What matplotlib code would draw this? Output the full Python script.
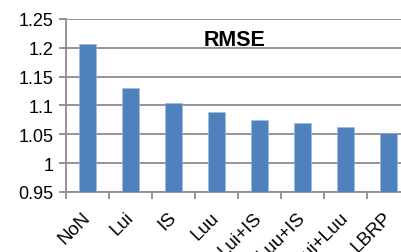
import matplotlib
matplotlib.use("Agg")
import matplotlib.pyplot as plt
import matplotlib.transforms as mtransforms
import numpy as np

categories = ["NoN", "Lui", "IS", "Luu", "Lui+IS", "Luu+IS", "Lui+Luu", "LBRP"]
rmse = [1.206, 1.131, 1.104, 1.089, 1.074, 1.069, 1.063, 1.053]
yticks = [0.95, 1.0, 1.05, 1.1, 1.15, 1.2, 1.25]
ytick_labels = ["0.95", "1", "1.05", "1.1", "1.15", "1.2", "1.25"]
title = "RMSE"

plt.rcParams['font.family'] = ['Liberation Sans', 'DejaVu Sans']

W, H = 401, 253
fig = plt.figure(figsize=(W/100, H/100), dpi=100)
left, right_px = 66, 66 + 8*43
top, bottom = 20, 193
ax = fig.add_axes([left/W, (H-bottom)/H, (right_px-left)/W, (bottom-top)/H])

x = np.arange(len(categories))
ax.bar(x, rmse, width=0.4, color="#4F81BD", edgecolor="#9DB8DC", linewidth=0.4, zorder=3)
ax.set_xlim(-0.5, len(categories)-0.5)
ax.set_ylim(0.95, 1.25)
ax.set_yticks(yticks)
ax.set_yticklabels(ytick_labels, fontsize=13)
ax.yaxis.grid(True, color="#8c8c8c", linewidth=1.3, zorder=0)
ax.tick_params(axis='y', length=5, width=1.3, color="#8c8c8c", pad=4)

ax.set_xticks(x)
ax.set_xticklabels(categories, fontsize=13.5, rotation=45, ha='right', va='top', rotation_mode='anchor')
ax.tick_params(axis='x', which='major', length=0, pad=12)
offset = mtransforms.ScaledTranslation(-6/100, 0, fig.dpi_scale_trans)
for lbl in ax.get_xticklabels():
    lbl.set_transform(lbl.get_transform() + offset)
ax.set_xticks(np.arange(len(categories)+1) - 0.5, minor=True)
ax.tick_params(axis='x', which='minor', length=5, width=1.3, color="#8c8c8c")

for s in ['top', 'right']:
    ax.spines[s].set_visible(False)
for s in ['left', 'bottom']:
    ax.spines[s].set_color("#8c8c8c")
    ax.spines[s].set_linewidth(1.3)

fig.text(234.5/W, 1 - 41/H, title, fontsize=15.5, fontweight='bold', ha='center', va='center')

fig.savefig("out.png", dpi=100)
